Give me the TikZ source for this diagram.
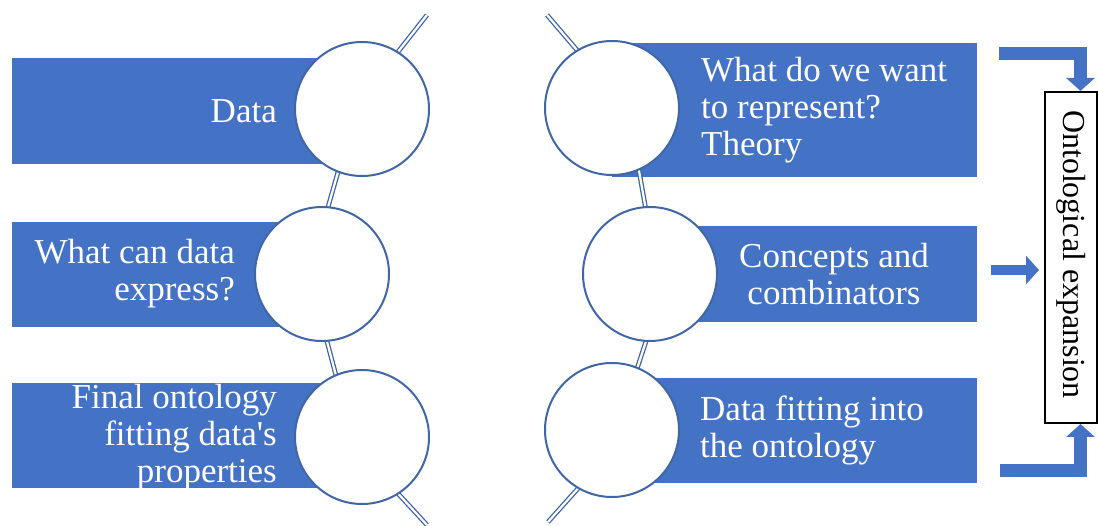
\documentclass[tikz,border=0pt]{standalone}
\usepackage{fontspec}
\setmainfont{Liberation Serif}
\usetikzlibrary{arrows.meta}
\definecolor{fillblue}{RGB}{68,114,196}
\definecolor{lineblue}{RGB}{65,102,165}
\tikzset{
  x=1pt,y=-1pt,
  bar/.style={fill=fillblue,draw=none},
  disc/.style={circle,draw=lineblue,line width=2pt,fill=white,minimum size=134pt,inner sep=0pt},
  conn/.style={draw=lineblue,line width=1.3pt,double=white,double distance=2.2pt},
  lbl/.style={text=white,inner sep=0pt,font=\fontsize{35}{37}\selectfont},
  fat/.style={draw=fillblue,line width=13pt,line join=miter,-{Triangle[width=28pt,length=13pt]}},
  fatm/.style={draw=fillblue,line width=10pt,-{Triangle[width=28pt,length=13pt]}},
}
\begin{document}
\begin{tikzpicture}
\useasboundingbox (0,0) rectangle (1098,526);
% bars
\fill[bar] (12,58) rectangle (362,164);
\fill[bar] (12,222) rectangle (322,327);
\fill[bar] (12,383) rectangle (362,488);
\fill[bar] (612,43) rectangle (977,177);
\fill[bar] (650,226) rectangle (977,322);
\fill[bar] (612,378) rectangle (977,483);
% connector end points
\coordinate (Ltop) at (427,15);
\coordinate (Lbot) at (427,525);
\coordinate (Rtop) at (547,15);
\coordinate (Rbot) at (548,522);
\coordinate (l1a) at (390,62);   \coordinate (l1b) at (340,165);
\coordinate (l2a) at (325.5,216); \coordinate (l2b) at (325,334);
\coordinate (l3a) at (338,383);  \coordinate (l3b) at (392,487);
\coordinate (r1a) at (582,56);   \coordinate (r1b) at (638,165);
\coordinate (r2a) at (647,216);  \coordinate (r2b) at (649,332);
\coordinate (r3a) at (635,375);  \coordinate (r3b) at (582,484);
% connectors
\draw[conn] (Ltop) -- (l1a);
\draw[conn] (l1b) -- (l2a);
\draw[conn] (l2b) -- (l3a);
\draw[conn] (l3b) -- (Lbot);
\draw[conn] (Rtop) -- (r1a);
\draw[conn] (r1b) -- (r2a);
\draw[conn] (r2b) -- (r3a);
\draw[conn] (r3b) -- (Rbot);
% circles
\node[disc] (c1) at (362,109) {};
\node[disc] (c2) at (322,274) {};
\node[disc] (c3) at (362,437) {};
\node[disc] (c4) at (612,108) {};
\node[disc] (c5) at (650,274) {};
\node[disc] (c6) at (612,430) {};
% labels
\node[lbl,anchor=east,align=right] (t1) at (277,111) {Data};
\node[lbl,anchor=east,align=right] (t2) at (235,274) {What can data\\express?};
\node[lbl,anchor=east,align=right] (t3) at (277,437) {Final ontology\\fitting data\textquotesingle s\\properties};
\node[lbl,anchor=west,align=left] (t4) at (701,110) {What do we want\\to represent?\\Theory};
\node[lbl,align=center] (t5) at (834,274) {Concepts and\\combinators};
\node[lbl,anchor=west,align=left] (t6) at (700,430) {Data fitting into\\the ontology};
% box
\node[draw=black,line width=2pt,fill=white,minimum width=52pt,minimum height=331pt,inner sep=0pt] (box) at (1071,257.5) {};
\node[rotate=-90,inner sep=0pt,font=\fontsize{32}{34}\selectfont] (boxt) at ([yshift=3pt]box.center) {Ontological expansion};
% arrows
\coordinate (ta) at (999,54);
\coordinate (ba) at (1000,470);
\coordinate (ma) at (991,270);
\draw[fat] (ta) -| ([xshift=9.5pt]box.north);
\draw[fat] (ba) -| ([xshift=9.5pt]box.south);
\draw[fatm] (ma) -- ([xshift=-5pt]box.west |- ma);
\end{tikzpicture}
\end{document}
